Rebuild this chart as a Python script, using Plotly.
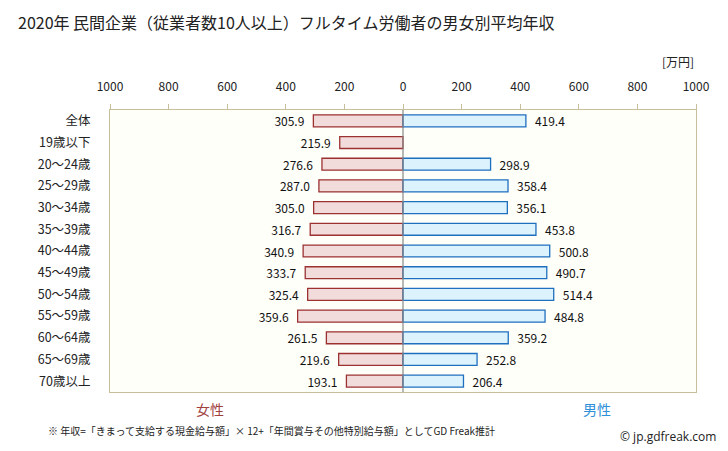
import plotly.graph_objects as go

categories = ["全体", "19歳以下", "20～24歳", "25～29歳", "30～34歳", "35～39歳", "40～44歳",
              "45～49歳", "50～54歳", "55～59歳", "60～64歳", "65～69歳", "70歳以上"]
female = [305.9, 215.9, 276.6, 287.0, 305.0, 316.7, 340.9, 333.7, 325.4, 359.6, 261.5, 219.6, 193.1]
male = [419.4, None, 298.9, 358.4, 356.1, 453.8, 500.8, 490.7, 514.4, 484.8, 359.2, 252.8, 206.4]
tick_vals = [-1000, -800, -600, -400, -200, 0, 200, 400, 600, 800, 1000]
tick_text = ["1000", "800", "600", "400", "200", "0", "200", "400", "600", "800", "1000"]

FONT = "Noto Sans CJK JP"
fig = go.Figure()
fig.add_trace(go.Bar(
    y=categories, x=[-v for v in female], orientation="h",
    marker=dict(color="#f2dcdb", line=dict(color="#9b3131", width=1.3)),
    text=[f"{v:.1f}\u2002" for v in female], textposition="outside", constraintext="none",
    textfont=dict(size=12, color="#111", family=FONT), cliponaxis=False,
    width=0.55, hoverinfo="skip"))
fig.add_trace(go.Bar(
    y=categories, x=male, orientation="h",
    marker=dict(color="#dcf3fd", line=dict(color="#1f6fbf", width=1.3)),
    text=[f"\u2002{v:.1f}" if v is not None else "" for v in male], textposition="outside",
    constraintext="none",
    textfont=dict(size=12, color="#111", family=FONT), cliponaxis=False,
    width=0.55, hoverinfo="skip"))

fig.update_layout(
    width=728, height=451, barmode="overlay", showlegend=False,
    paper_bgcolor="white", plot_bgcolor="#fffffa",
    margin=dict(l=110, r=32, t=110, b=59),
    font=dict(family=FONT, size=12, color="#222"),
    xaxis=dict(range=[-1000, 1000], side="top", tickvals=tick_vals, ticktext=tick_text,
               ticks="outside", ticklen=5, tickcolor="#c8bf9a", showgrid=False, zeroline=False,
               showline=True, linecolor="#c8bf9a", mirror=True, linewidth=1, automargin=False,
               ticklabelstandoff=8, tickfont=dict(size=12, color="#222")),
    yaxis=dict(autorange="reversed", showgrid=False, zeroline=False, ticks="",
               showline=True, linecolor="#c8bf9a", mirror=True, linewidth=1, automargin=False,
               tickfont=dict(size=12.5, color="#222"), ticklabelstandoff=16),
)
fig.add_shape(type="line", xref="x", yref="paper", x0=0, x1=0, y0=0, y1=1,
              line=dict(color="#888888", width=1.2), layer="above")

fig.add_annotation(text="2020年 民間企業（従業者数10人以上）フルタイム労働者の男女別平均年収", xref="paper", yref="paper",
                   x=-94/586, y=1 + 88/281, xanchor="left", yanchor="middle", showarrow=False,
                   font=dict(size=16, color="#222"))
fig.add_annotation(text="[万円]", xref="paper", yref="paper", x=1, y=1 + 48/281,
                   xanchor="right", yanchor="middle", showarrow=False, font=dict(size=12, color="#222"))
fig.add_annotation(text="女性", xref="paper", yref="paper", x=(210-110)/586, y=-17/281,
                   xanchor="center", yanchor="middle", showarrow=False, font=dict(size=14, color="#a0413f"))
fig.add_annotation(text="男性", xref="paper", yref="paper", x=(597-110)/586, y=-17/281,
                   xanchor="center", yanchor="middle", showarrow=False, font=dict(size=14, color="#2f8fd8"))
fig.add_annotation(text="※ 年収=「きまって支給する現金給与額」× 12+「年間賞与その他特別給与額」としてGD Freak推計",
                   xref="paper", yref="paper", x=(46-110)/586, y=-38/281,
                   xanchor="left", yanchor="middle", showarrow=False, font=dict(size=10, color="#222"))
fig.add_annotation(text="© jp.gdfreak.com", xref="paper", yref="paper", x=(718-110)/586, y=-44/281,
                   xanchor="right", yanchor="middle", showarrow=False,
                   font=dict(size=12, color="#222", family="Open Sans"))

fig.write_html("out.html", post_script="document.body.style.margin='0';",
               config={"displayModeBar": False})
